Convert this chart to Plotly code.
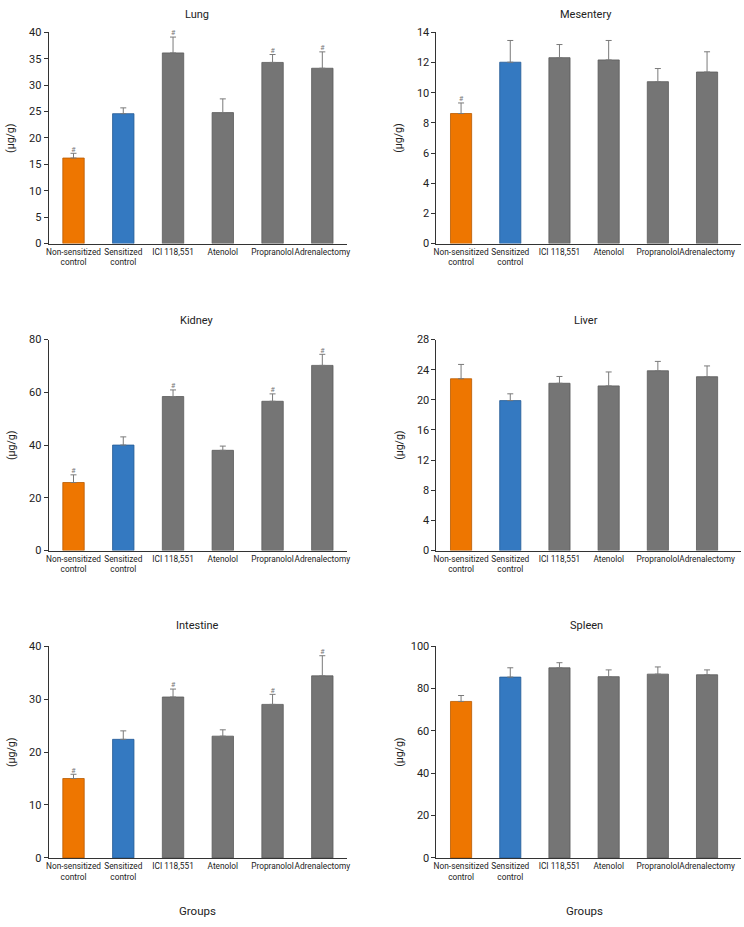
import plotly.graph_objects as go

groups = ["Non-sensitized<br>control", "Sensitized<br>control", "ICI 118,551",
          "Atenolol", "Propranolol", "Adrenalectomy"]

lung_mean = [16.2, 24.6, 36.1, 24.8, 34.3, 33.2]
lung_err = [0.9, 1.1, 3.0, 2.6, 1.5, 3.1]
lung_sig = [1, 0, 1, 0, 1, 1]

mesentery_mean = [8.62, 12.02, 12.32, 12.17, 10.73, 11.37]
mesentery_err = [0.70, 1.44, 0.87, 1.29, 0.87, 1.34]
mesentery_sig = [1, 0, 0, 0, 0, 0]

kidney_mean = [25.8, 40.0, 58.4, 38.0, 56.6, 70.2]
kidney_err = [2.9, 3.1, 2.5, 1.6, 2.8, 4.2]
kidney_sig = [1, 0, 1, 0, 1, 1]

liver_mean = [22.8, 19.9, 22.2, 21.85, 23.86, 23.07]
liver_err = [1.9, 0.9, 0.9, 1.85, 1.24, 1.43]
liver_sig = [0, 0, 0, 0, 0, 0]

intestine_mean = [15.0, 22.4, 30.4, 23.0, 29.0, 34.4]
intestine_err = [0.8, 1.6, 1.5, 1.2, 1.9, 3.8]
intestine_sig = [1, 0, 1, 0, 1, 1]

spleen_mean = [73.9, 85.4, 89.8, 85.6, 86.8, 86.5]
spleen_err = [2.8, 4.4, 2.4, 3.2, 3.4, 2.3]
spleen_sig = [0, 0, 0, 0, 0, 0]

panels = [
    ("Lung", lung_mean, lung_err, lung_sig, 40, 5),
    ("Mesentery", mesentery_mean, mesentery_err, mesentery_sig, 14, 2),
    ("Kidney", kidney_mean, kidney_err, kidney_sig, 80, 20),
    ("Liver", liver_mean, liver_err, liver_sig, 28, 4),
    ("Intestine", intestine_mean, intestine_err, intestine_sig, 40, 10),
    ("Spleen", spleen_mean, spleen_err, spleen_sig, 100, 20),
]

bar_colors = ["#EE7600", "#3479C1", "#757575", "#757575", "#757575", "#757575"]
line_colors = ["#B85A00", "#245A94", "#5A5A5A", "#5A5A5A", "#5A5A5A", "#5A5A5A"]

W, H = 744, 927
FONT = "Roboto, Liberation Sans Narrow, sans-serif"

col_x = [(46, 347), (437, 744)]
col_range = [[-0.5, 5.5], [-0.5, 5.69]]
row_y = [(26.7, 241), (338.3, 552.3), (649.3, 864)]
title_top = [0, 310, 620]

fig = go.Figure()
annotations = []
layout_axes = {}

for i, (name, mean, err, sig, ymax, dtick) in enumerate(panels):
    r, c = divmod(i, 2)
    n = i + 1
    xa = "x" if n == 1 else f"x{n}"
    ya = "y" if n == 1 else f"y{n}"
    xkey = "xaxis" if n == 1 else f"xaxis{n}"
    ykey = "yaxis" if n == 1 else f"yaxis{n}"
    x0, x1 = col_x[c]
    yt, yb = row_y[r]
    fig.add_trace(go.Bar(
        x=list(range(len(groups))), y=mean, xaxis=xa, yaxis=ya,
        marker=dict(color=bar_colors, line=dict(color=line_colors, width=0.8)),
        width=0.43,
        error_y=dict(type="data", array=err, arrayminus=[0] * len(err), symmetric=False,
                     color="#7A7A7A", thickness=1, width=3),
        showlegend=False, hoverinfo="skip",
    ))
    sx = [k for k in range(len(groups)) if sig[k]]
    sy = [mean[k] + err[k] for k in sx]
    if sx:
        fig.add_trace(go.Scatter(
            x=sx, y=sy, xaxis=xa, yaxis=ya, mode="text", text=["#"] * len(sx),
            textposition="top center", textfont=dict(size=7, color="#777777", family=FONT),
            showlegend=False, hoverinfo="skip", cliponaxis=False,
        ))
    layout_axes[xkey] = dict(
        domain=[x0 / W, x1 / W], range=col_range[c], anchor=ya,
        tickmode="array", tickvals=list(range(len(groups))), ticktext=groups,
        showline=True, linecolor="#333333", linewidth=1, ticks="", showgrid=False,
        zeroline=False, tickfont=dict(size=8.3, color="#222222", family=FONT),
        tickangle=0, fixedrange=True,
    )
    layout_axes[ykey] = dict(
        domain=[1 - yb / H, 1 - yt / H], range=[0, ymax], anchor=xa,
        dtick=dtick, tick0=0, showline=True, linecolor="#333333", linewidth=1,
        ticks="outside", ticklen=4, tickcolor="#333333", showgrid=False, zeroline=False,
        tickfont=dict(size=11, color="#222222", family=FONT), fixedrange=True,
    )
    annotations.append(dict(
        text=name, x=(196 if c == 0 else 588) / W,
        y=1 - title_top[r] / H, xref="paper", yref="paper", showarrow=False,
        xanchor="center", yanchor="top", font=dict(size=11, color="#222222", family=FONT),
    ))
    annotations.append(dict(
        text="(µg/g)", x=(x0 - 38) / W, y=1 - ((yt + yb) / 2) / H, xref="paper", yref="paper",
        showarrow=False, textangle=-90, xanchor="center", yanchor="middle",
        font=dict(size=10.5, color="#222222", family=FONT),
    ))

for cx in [196, 586]:
    annotations.append(dict(
        text="Groups", x=cx / W, y=0, xref="paper", yref="paper", showarrow=False,
        xanchor="center", yanchor="bottom", font=dict(size=11.5, color="#222222", family=FONT),
    ))

fig.update_layout(
    width=W, height=H, margin=dict(l=0, r=0, t=0, b=0),
    paper_bgcolor="white", plot_bgcolor="white",
    annotations=annotations, bargap=0.5, **layout_axes,
)

fig.write_html("out.html", config={"displayModeBar": False},
               post_script="document.body.style.margin='0';document.body.style.padding='0';document.body.style.overflow='hidden';")
